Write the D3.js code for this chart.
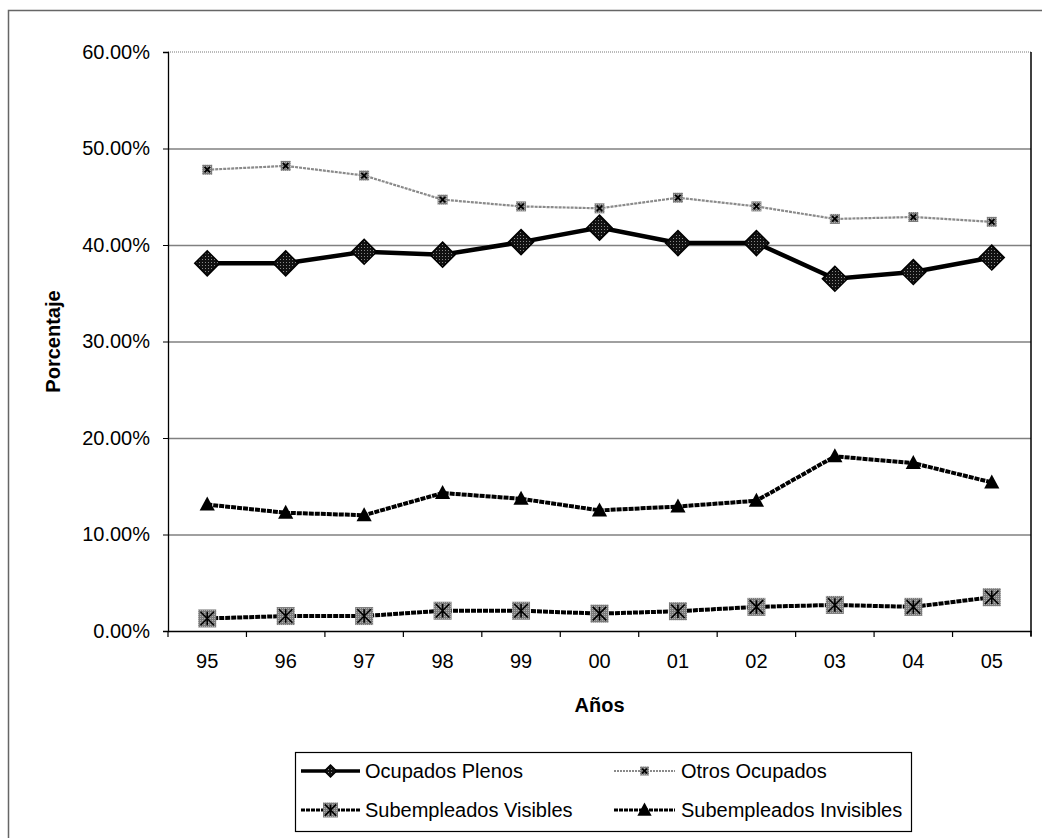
<!DOCTYPE html>
<html>
<head>
<meta charset="utf-8">
<script src="https://cdn.jsdelivr.net/npm/d3@7"></script>
<style>
  body { margin: 0; background: #fff; }
  svg { display: block; font-family: "Liberation Sans", Arial, sans-serif; }
</style>
</head>
<body>
<svg id="chart" width="1042" height="838"></svg>
<script>
const years = ["95","96","97","98","99","00","01","02","03","04","05"];
const ocupadosPlenos = [38.1, 38.1, 39.3, 39.0, 40.3, 41.8, 40.2, 40.2, 36.5, 37.2, 38.7];
const otrosOcupados = [47.8, 48.2, 47.2, 44.7, 44.0, 43.8, 44.9, 44.0, 42.7, 42.9, 42.4];
const subVisibles = [1.3, 1.55, 1.55, 2.1, 2.1, 1.8, 2.05, 2.5, 2.7, 2.5, 3.5];
const subInvisibles = [13.1, 12.25, 12.0, 14.3, 13.7, 12.5, 12.9, 13.5, 18.1, 17.4, 15.4];
const yTicks = [0, 10, 20, 30, 40, 50, 60];
const seriesNames = ["Ocupados Plenos", "Otros Ocupados", "Subempleados Visibles", "Subempleados Invisibles"];

const svg = d3.select("#chart");
const L = 168, R = 1031, T = 52, B = 631;

// patterns
const defs = svg.append("defs");
const p1 = defs.append("pattern").attr("id","darkTex").attr("width",3).attr("height",3).attr("patternUnits","userSpaceOnUse");
p1.append("rect").attr("width",3).attr("height",3).attr("fill","#111");
p1.append("rect").attr("x",1).attr("y",1).attr("width",1).attr("height",1).attr("fill","#888");
const p2 = defs.append("pattern").attr("id","grayTex").attr("width",2).attr("height",2).attr("patternUnits","userSpaceOnUse");
p2.append("rect").attr("width",2).attr("height",2).attr("fill","#7a7a7a");
p2.append("rect").attr("x",0).attr("y",0).attr("width",1).attr("height",1).attr("fill","#b0b0b0");

// outer border
svg.append("rect").attr("x",8.5).attr("y",10.5).attr("width",1100).attr("height",900)
  .attr("fill","none").attr("stroke","#666").attr("stroke-width",1.5);

const x = d3.scaleBand().domain(years).range([L, R]);
const cx = d => x(d) + x.bandwidth() / 2;
const y = d3.scaleLinear().domain([0, 60]).range([B, T]);

// gridlines
svg.append("g").attr("transform",`translate(${L},0)`)
  .call(d3.axisLeft(y).tickValues(yTicks.filter(v => v > 0 && v < 60)).tickSize(-(R - L)).tickFormat(""))
  .call(g => g.select(".domain").remove())
  .call(g => g.selectAll("line").attr("stroke","#808080").attr("stroke-width",1.3));

// top dotted border
svg.append("line").attr("x1",L).attr("x2",R).attr("y1",y(60)).attr("y2",y(60))
  .attr("stroke","#777").attr("stroke-width",1).attr("stroke-dasharray","1,1");
// right border
svg.append("line").attr("x1",R).attr("x2",R).attr("y1",T).attr("y2",B + 5)
  .attr("stroke","#000").attr("stroke-width",1.5);

// y axis
svg.append("g").attr("transform",`translate(${L},0)`)
  .call(d3.axisLeft(y).tickValues(yTicks).tickSize(5).tickPadding(13).tickFormat(d => d.toFixed(2) + "%"))
  .call(g => g.select(".domain").attr("stroke","#000").attr("stroke-width",1.3))
  .call(g => g.selectAll("line").attr("stroke","#000"))
  .call(g => g.selectAll("text").attr("font-size",20).attr("fill","#000").attr("font-family","Liberation Sans, Arial, sans-serif"));

// x axis (labels)
svg.append("g").attr("transform",`translate(0,${B})`)
  .call(d3.axisBottom(x).tickSize(0).tickPadding(23))
  .call(g => g.select(".domain").attr("stroke","#000").attr("stroke-width",1.3))
  .call(g => g.selectAll("text").attr("font-size",20).attr("fill","#000").attr("font-family","Liberation Sans, Arial, sans-serif"));
// x boundary ticks
const bounds = years.map(d => x(d)).concat([x(years[years.length-1]) + x.bandwidth()]);
svg.append("g").selectAll("line").data(bounds).join("line")
  .attr("x1", d => d).attr("x2", d => d).attr("y1", B).attr("y2", B + 6)
  .attr("stroke","#000").attr("stroke-width",1.2);

// axis titles
svg.append("text").attr("transform",`translate(60,${(T+B)/2}) rotate(-90)`)
  .attr("text-anchor","middle").attr("font-size",20).attr("font-weight","bold").text("Porcentaje");
svg.append("text").attr("x",(L+R)/2).attr("y",712).attr("text-anchor","middle")
  .attr("font-size",20).attr("font-weight","bold").text("Años");

const line = d3.line().x((v,i) => cx(years[i])).y(v => y(v));

// marker drawers
function diamond(g, px, py, s) {
  g.append("path").attr("d",`M${px},${py-s}L${px+s},${py}L${px},${py+s}L${px-s},${py}Z`)
    .attr("fill","url(#darkTex)").attr("stroke","#000").attr("stroke-width",1.5);
}
function smallSquare(g, px, py, s) {
  g.append("rect").attr("x",px-s).attr("y",py-s).attr("width",2*s).attr("height",2*s)
    .attr("fill","url(#grayTex)");
  const k = s*0.55;
  g.append("path").attr("d",`M${px-k},${py-k}L${px+k},${py+k}M${px+k},${py-k}L${px-k},${py+k}`)
    .attr("stroke","#000").attr("stroke-width",1.8);
}
function starSquare(g, px, py, s) {
  g.append("rect").attr("x",px-s).attr("y",py-s).attr("width",2*s).attr("height",2*s)
    .attr("fill","url(#grayTex)");
  const k = s*0.75;
  g.append("path").attr("d",`M${px-k},${py-k}L${px+k},${py+k}M${px+k},${py-k}L${px-k},${py+k}M${px},${py-k}L${px},${py+k}`)
    .attr("stroke","#000").attr("stroke-width",1.6);
}
function triangle(g, px, py, s) {
  g.append("path").attr("d",`M${px},${py-s}L${px+s*0.95},${py+s*0.75}L${px-s*0.95},${py+s*0.75}Z`)
    .attr("fill","#000");
}

// series lines
svg.append("path").datum(otrosOcupados).attr("d", line).attr("fill","none")
  .attr("stroke","#8a8a8a").attr("stroke-width",2.2).attr("stroke-dasharray","3,1");
svg.append("path").datum(ocupadosPlenos).attr("d", line).attr("fill","none")
  .attr("stroke","#000").attr("stroke-width",4.5);
svg.append("path").datum(subInvisibles).attr("d", line).attr("fill","none")
  .attr("stroke","#000").attr("stroke-width",4).attr("stroke-dasharray","5,1");
svg.append("path").datum(subVisibles).attr("d", line).attr("fill","none")
  .attr("stroke","#000").attr("stroke-width",4).attr("stroke-dasharray","5,1");

// markers
const mk = svg.append("g");
otrosOcupados.forEach((v,i) => smallSquare(mk, cx(years[i]), y(v), 5));
ocupadosPlenos.forEach((v,i) => diamond(mk, cx(years[i]), y(v), 12.5));
subInvisibles.forEach((v,i) => triangle(mk, cx(years[i]), y(v), 8));
subVisibles.forEach((v,i) => starSquare(mk, cx(years[i]), y(v), 9));

// legend
const lg = svg.append("g");
lg.append("rect").attr("x",295.5).attr("y",752.5).attr("width",616).attr("height",79)
  .attr("fill","#fff").attr("stroke","#000").attr("stroke-width",1.2);
const legendItems = [
  {name: seriesNames[0], x0: 301, x1: 360, tx: 365, cy: 771, kind: 0},
  {name: seriesNames[1], x0: 614, x1: 675, tx: 681, cy: 771, kind: 1},
  {name: seriesNames[2], x0: 301, x1: 360, tx: 365, cy: 810, kind: 2},
  {name: seriesNames[3], x0: 614, x1: 675, tx: 681, cy: 810, kind: 3}
];
legendItems.forEach(it => {
  const mx = (it.x0 + it.x1) / 2;
  const ln = lg.append("line").attr("x1",it.x0).attr("x2",it.x1).attr("y1",it.cy).attr("y2",it.cy);
  if (it.kind === 0) { ln.attr("stroke","#000").attr("stroke-width",3.5); diamond(lg, mx, it.cy, 6); }
  if (it.kind === 1) { ln.attr("stroke","#8a8a8a").attr("stroke-width",2).attr("stroke-dasharray","2,1"); smallSquare(lg, mx, it.cy, 4.5); }
  if (it.kind === 2) { ln.attr("stroke","#000").attr("stroke-width",3).attr("stroke-dasharray","4,1"); starSquare(lg, mx, it.cy, 7.5); }
  if (it.kind === 3) { ln.attr("stroke","#000").attr("stroke-width",3).attr("stroke-dasharray","4,1"); triangle(lg, mx, it.cy, 7.5); }
  lg.append("text").attr("x",it.tx).attr("y",it.cy + 7).attr("font-size",20).attr("fill","#000").text(it.name);
});
</script>
</body>
</html>
